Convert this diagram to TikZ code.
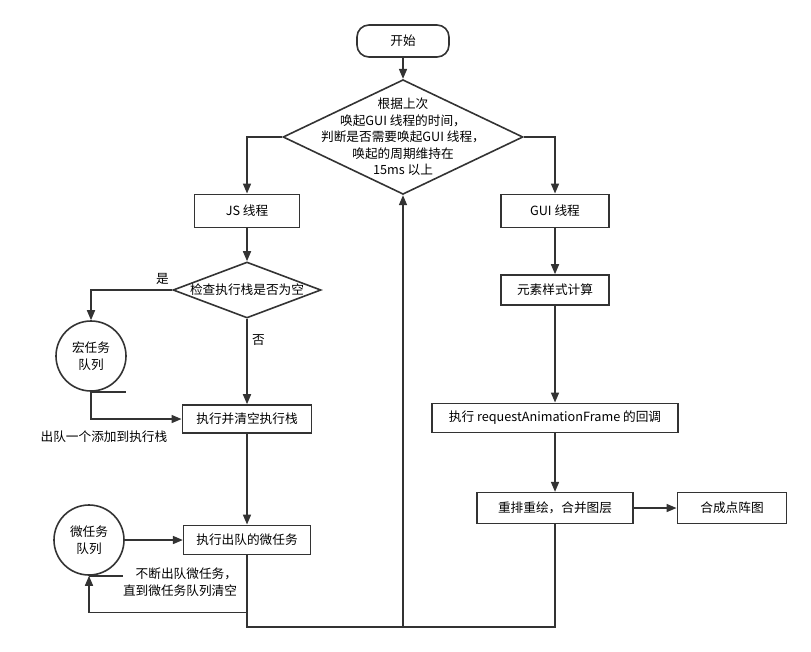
\documentclass[tikz,border=0pt]{standalone}
\usepackage{fontspec}
\setmainfont{Noto Sans CJK SC}
\usetikzlibrary{shapes.geometric, arrows.meta, positioning}
\definecolor{linegray}{HTML}{333333}

\begin{document}
\begin{tikzpicture}[x=0.75pt, y=-0.75pt,
  box/.style={rectangle, draw=linegray, line width=1.2pt, minimum width=81pt,
              minimum height=24pt, align=center, font=\fontsize{9.5}{12.4}\selectfont},
  decision/.style={diamond, draw=linegray, line width=1.2pt, inner sep=0pt},
  queue/.style={circle, draw=linegray, line width=1.2pt, minimum size=52.5pt,
                inner sep=0pt, align=center, font=\fontsize{9.5}{12.4}\selectfont},
  txt/.style={align=center, font=\fontsize{9.5}{12.4}\selectfont},
  lbl/.style={font=\fontsize{9.5}{12.4}\selectfont},
  arr/.style={-{Triangle[length=7.5pt,width=6pt]}, draw=linegray, line width=1.2pt},
  line/.style={draw=linegray, line width=1.2pt},
]
\useasboundingbox (0,0) rectangle (811,651);

% left: js thread
\node[box, rounded corners=9pt, minimum width=69pt] (start) at (403,41) {开始};
\node[decision, minimum width=180pt, minimum height=86pt] (judge) at (403,137) {};
\node[txt] (judgetext) at (judge.center) {根据上次\\唤起GUI 线程的时间，\\判断是否需要唤起GUI 线程，\\唤起的周期维持在\\15ms 以上};
\node[box, minimum width=79pt, minimum height=25pt] (js) at (247,211) {JS 线程};
\node[decision, minimum width=111pt, minimum height=42pt] (check) at (247,290) {};
\node[txt] (checktext) at (check.center) {检查执行栈是否为空};
\node[queue] (macro) at (91,356) {宏任务\\队列};
\node[box, minimum width=97pt, minimum height=21pt] (run) at (247,419) {执行并清空执行栈};
\node[queue] (micro) at (89,540) {微任务\\队列};
\node[box, minimum width=95pt, minimum height=22pt] (mtask) at (247,540) {执行出队的微任务};
\node[lbl] (dequeue) at (104,437) {出队一个添加到执行栈};
\node[txt, align=right] (drain) at (180,582) {不断出队微任务，\\直到微任务队列清空};

% right: gui thread
\node[box, minimum height=25pt] (gui) at (555,211) {GUI 线程};
\node[box, minimum height=22.5pt] (calc) at (555,290) {元素样式计算};
\node[box, minimum width=184.5pt, minimum height=22pt] (raf) at (555,418) {执行 requestAnimationFrame 的回调};
\node[box, minimum width=117pt, minimum height=23pt] (reflow) at (555,508) {重排重绘，合并图层};
\node[box, minimum width=82pt, minimum height=23pt] (compose) at (732,508) {合成点阵图};
\coordinate (join) at (403,627);

\draw[arr] (start) -- (judge);
\draw[arr] (judge.west) -| (js);
\draw[arr] (judge.east) -| (gui);
\draw[arr] (js) -- (check);
\draw[arr] (check.west) -| node[lbl, pos=0.06, above] (yes) {是} (macro);
\draw[arr] (check) -- node[lbl, pos=0.25, right] (no) {否} (run);
\draw[arr] (macro.south) |- (run);
\draw[line] (macro.south) -- ++(35,0);
\draw[arr] (run) -- (mtask);
\draw[arr] (micro) -- (mtask);
\draw[line] (micro.south) -- ++(34,0);
\draw[arr] (mtask.south) -- ++(0,57) -| (micro.south);
\draw[arr] (mtask.south) |- (join) -- (judge.south);

\draw[arr] (gui) -- (calc);
\draw[arr] (calc) -- (raf);
\draw[arr] (raf) -- (reflow);
\draw[arr] (reflow) -- (compose);
\draw[line] (reflow.south) |- (join);
\end{tikzpicture}
\end{document}
